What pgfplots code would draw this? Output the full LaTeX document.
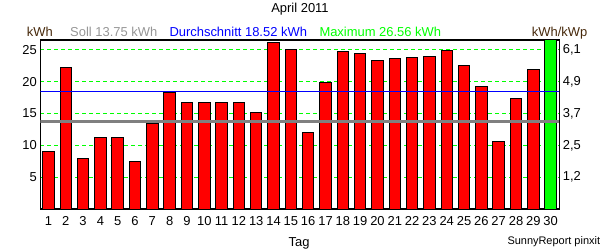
\documentclass[border=0pt]{standalone}
\usepackage{pgfplots}
\pgfplotsset{compat=1.18}
\usepackage{fontspec}
\setmainfont{Liberation Sans}
\definecolor{brgreen}{RGB}{0,255,0}
\definecolor{unitcol}{RGB}{70,40,10}
\definecolor{sollgray}{RGB}{150,150,150}
\definecolor{linegray}{RGB}{128,128,128}
\begin{document}
\begin{tikzpicture}
\begin{axis}[
  at={(40.3bp,41bp)}, anchor=south west,
  scale only axis, width=519bp, height=169bp,
  xmin=0.53, xmax=30.5, ymin=0, ymax=26.56,
  xtick={1,...,30}, ytick={5,10,15,20,25},
  major tick length=0pt,
  /pgf/number format/assume math mode=true,
  ticklabel style={font=\fontsize{13}{15}\selectfont},
  xticklabel style={yshift=-4bp},
  ymajorgrids,
  y grid style={color=brgreen, line width=1.1bp, dash pattern=on 4bp off 3bp},
  axis line style={color=black, line width=1.2bp},
]
\addplot[ybar, bar width=0.66, bar shift=0pt, fill=red, draw=black, line width=1bp] coordinates {
 (1,9.0) (2,22.2) (3,8.0) (4,11.25) (5,11.25) (6,7.5) (7,13.4) (8,18.3)
 (9,16.7) (10,16.7) (11,16.7) (12,16.7) (13,15.2) (14,26.1) (15,25.0)
 (16,12.0) (17,19.9) (18,24.7) (19,24.4) (20,23.4) (21,23.6) (22,23.75)
 (23,23.9) (24,24.9) (25,22.5) (26,19.2) (27,10.6) (28,17.3) (29,21.9)
};
\addplot[ybar, bar width=0.66, bar shift=0pt, fill=brgreen, draw=black, line width=1bp] coordinates {(30,26.56)};
\addplot[color=linegray, line width=2.1bp] coordinates {(0.53,13.75) (30.5,13.75)};
\addplot[color=blue, line width=1.1bp] coordinates {(0.53,18.52) (30.5,18.52)};
\end{axis}
\begin{axis}[
  at={(40.3bp,41bp)}, anchor=south west,
  scale only axis, width=519bp, height=169bp,
  xmin=0.53, xmax=30.5, ymin=0, ymax=26.56,
  axis x line=none, axis y line*=right,
  axis line style={draw=none},
  ytick={5,10,15,20,25},
  yticklabels={{1,2},{2,5},{3,7},{4,9},{6,1}},
  major tick length=0pt,
  ticklabel style={font=\fontsize{13}{15}\selectfont},
]
\addplot[draw=none] coordinates {(1,0)};
\end{axis}
\node[anchor=base, inner sep=0, font=\fontsize{13}{15}\selectfont] at (300bp,237.5bp) {April 2011};
\node[anchor=base west, inner sep=0, font=\fontsize{13}{15}\selectfont, text=unitcol] at (26.7bp,213.3bp) {kWh};
\node[anchor=base west, inner sep=0, font=\fontsize{13}{15}\selectfont, text=sollgray] at (70bp,213.3bp) {Soll 13.75 kWh};
\node[anchor=base west, inner sep=0, font=\fontsize{13}{15}\selectfont, text=blue] at (169.3bp,213.3bp) {Durchschnitt 18.52 kWh};
\node[anchor=base west, inner sep=0, font=\fontsize{13}{15}\selectfont, text=brgreen] at (319.3bp,213.3bp) {Maximum 26.56 kWh};
\node[anchor=base west, inner sep=0, font=\fontsize{13}{15}\selectfont, text=unitcol] at (531.7bp,213.3bp) {kWh/kWp};
\node[anchor=base, inner sep=0, font=\fontsize{13}{15}\selectfont] at (299bp,3.3bp) {Tag};
\node[anchor=base west, inner sep=0, font=\fontsize{11}{13}\selectfont] at (507.3bp,6bp) {SunnyReport pinxit};
\pgfresetboundingbox
\useasboundingbox (0,0) rectangle (600bp,250bp);
\end{tikzpicture}
\end{document}
